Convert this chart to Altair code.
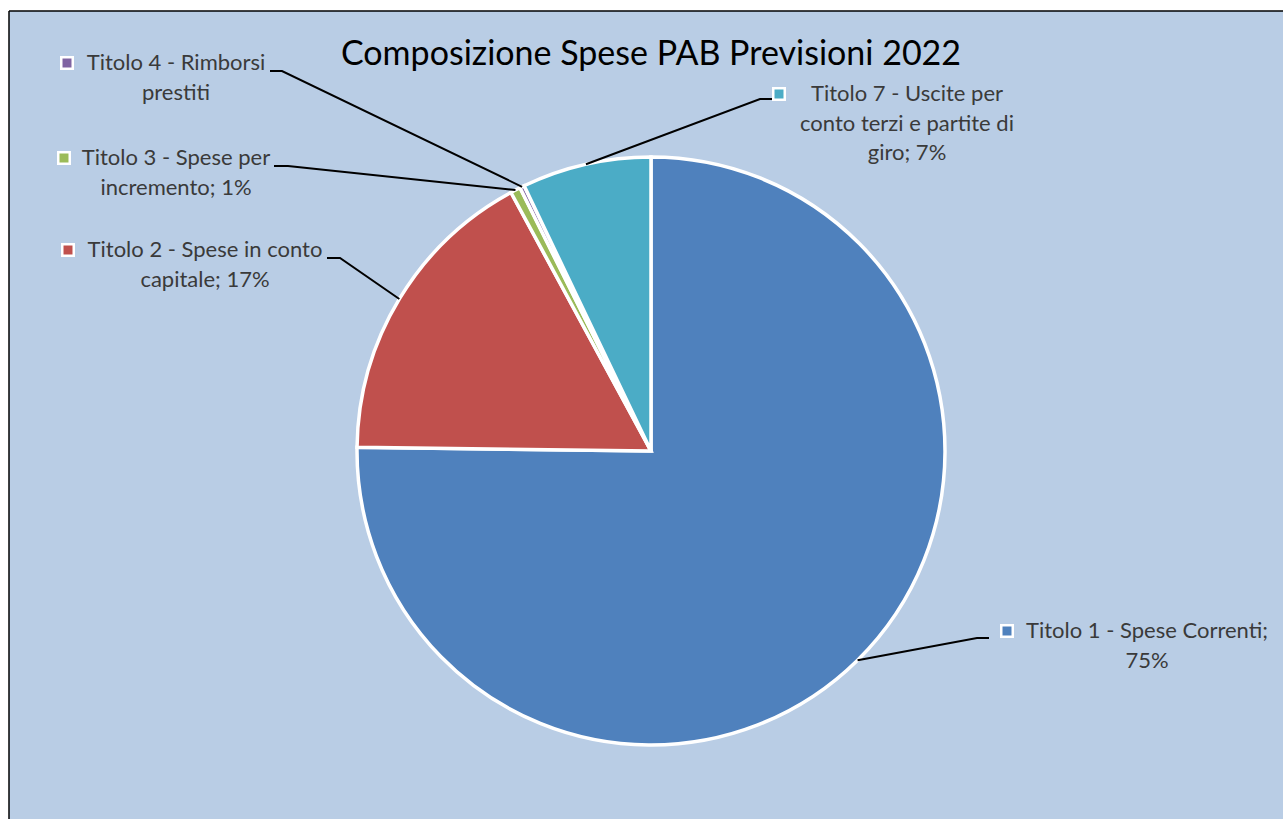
import math
import altair as alt
import pandas as pd

# ---- data ----
categories = [
    "Titolo 1 - Spese Correnti",
    "Titolo 2 - Spese in conto capitale",
    "Titolo 3 - Spese per incremento",
    "Titolo 4 - Rimborsi prestiti",
    "Titolo 7 - Uscite per conto terzi e partite di giro",
]
values = [75.2, 16.9, 0.55, 0.25, 7.1]
label_lines = [
    ["Titolo 1 - Spese Correnti;", "75%"],
    ["Titolo 2 - Spese in conto", "capitale; 17%"],
    ["Titolo 3 - Spese per", "incremento; 1%"],
    ["Titolo 4 - Rimborsi", "prestiti"],
    ["Titolo 7 - Uscite per", "conto terzi e partite di", "giro; 7%"],
]
colors = ["#4F81BD", "#C0504D", "#9BBB59", "#8064A2", "#4BACC6"]
title_text = "Composizione Spese PAB Previsioni 2022"

# ---- layout (page pixels) ----
OX, OY = 9, 11
W, H = 1283 - OX, 819 - OY
CX, CY, R = 651 - OX, 451 - OY, 294
FONT = "Lato"
LABEL_SIZE = 22
LINE_H = 29.5
# text centre x, first line y, marker x, leader elbow (x1,y1) (x2,y2)
label_layout = [
    (1147, 631, 1007, (989, 638), (977, 638)),
    (205, 250, 68, (327, 258), (340, 258)),
    (176, 158, 64, (274, 166), (288, 166)),
    (176, 63, 67, (270, 71), (282, 71)),
    (907, 94, 779, (773, 99), (760, 99)),
]

pie_df = pd.DataFrame({"cat": categories, "value": values, "idx": range(len(values))})

total = sum(values)
cum = 0.0
line_rows, text_rows, marker_rows = [], [], []
for i, (cat, v) in enumerate(zip(categories, values)):
    mid = (cum + v / 2) / total * 2 * math.pi
    cum += v
    ex = CX + R * math.sin(mid)
    ey = CY - R * math.cos(mid)
    tx, ty, mx, p1, p2 = label_layout[i]
    pts = [(p1[0] - OX, p1[1] - OY), (p2[0] - OX, p2[1] - OY), (ex, ey)]
    for k, (px, py) in enumerate(pts):
        line_rows.append({"cat": cat, "k": k, "px": px, "py": py})
    for j, ln in enumerate(label_lines[i]):
        text_rows.append({"cat": cat, "txt": ln, "px": tx - OX, "py": ty - OY + j * LINE_H})
    marker_rows.append({"cat": cat, "px": mx - OX, "py": ty - OY})

lines_df = pd.DataFrame(line_rows)
text_df = pd.DataFrame(text_rows)
marker_df = pd.DataFrame(marker_rows)
title_df = pd.DataFrame({"txt": [title_text], "px": [651 - OX], "py": [55 - OY]})

color_scale = alt.Scale(domain=categories, range=colors)
X = lambda: alt.X("px:Q", scale=None, axis=None)
Y = lambda: alt.Y("py:Q", scale=None, axis=None)

pie = alt.Chart(pie_df).mark_arc(outerRadius=R, stroke="white", strokeWidth=3.5).encode(
    theta=alt.Theta("value:Q", stack=True),
    color=alt.Color("cat:N", scale=color_scale, legend=None),
    order=alt.Order("idx:Q"),
    x=alt.value(CX),
    y=alt.value(CY),
)

leaders = alt.Chart(lines_df).mark_line(color="black", strokeWidth=2).encode(
    x=X(), y=Y(), detail="cat:N", order="k:Q"
)

labels = alt.Chart(text_df).mark_text(
    font=FONT, fontSize=LABEL_SIZE, color="#3A3A3A", align="center", baseline="middle"
).encode(x=X(), y=Y(), text="txt:N")

markers = alt.Chart(marker_df).mark_square(size=132, stroke="white", strokeWidth=2.5, opacity=1).encode(
    x=X(), y=Y(), fill=alt.Fill("cat:N", scale=color_scale, legend=None)
)

title = alt.Chart(title_df).mark_text(
    font=FONT, fontSize=34, color="black", align="center", baseline="middle"
).encode(x=X(), y=Y(), text="txt:N")

border_left = alt.Chart(title_df).mark_rule(color="black", strokeWidth=1.5).encode(
    x=alt.value(0), y=alt.value(0), y2=alt.value(H)
)
border_top = alt.Chart(title_df).mark_rule(color="black", strokeWidth=1.5).encode(
    x=alt.value(0), x2=alt.value(W), y=alt.value(0)
)

chart = alt.layer(pie, leaders, labels, markers, title, border_left, border_top).properties(
    width=W,
    height=H,
    background="white",
    padding={"left": OX, "top": OY, "right": 0, "bottom": 0},
    autosize=alt.AutoSizeParams(type="none"),
).configure_view(fill="#B9CDE5", stroke=None)

chart.save("out.html", embed_options={"renderer": "svg", "actions": False})
